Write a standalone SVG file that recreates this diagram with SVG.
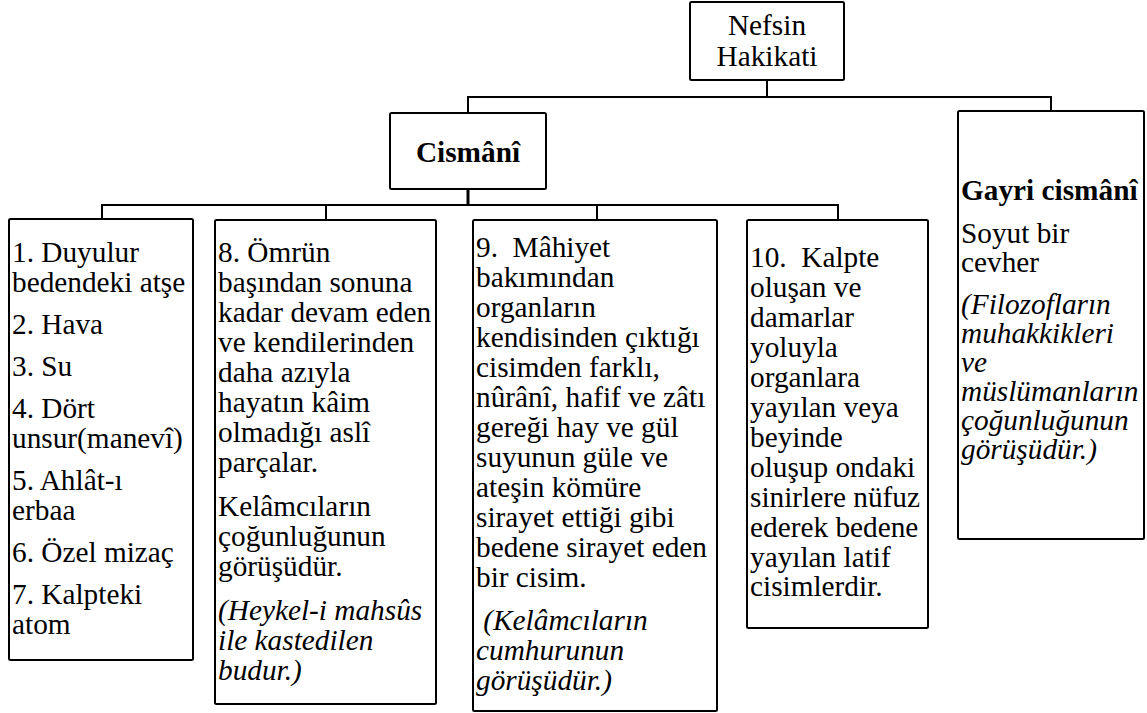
<svg xmlns="http://www.w3.org/2000/svg" width="1147" height="713" viewBox="0 0 1147 713">
<style>
.box{fill:#fff;stroke:#000;stroke-width:2}
text{font-family:"Liberation Serif","Times New Roman",serif;font-size:29.3px;fill:#000}
.b{font-weight:bold}
.i{font-style:italic}
.c{text-anchor:middle}
.conn{fill:none;stroke:#000;stroke-width:2}
</style>
<g id="connectors">
<polyline class="conn" points="767,80 767,97"/>
<polyline class="conn" points="468,113 468,97 1051,97 1051,111"/>
<polyline class="conn" points="468,189 468,205" style="stroke-width:3"/>
<polyline class="conn" points="102,219 102,205 838,205 838,220"/>
<polyline class="conn" points="326,205 326,220"/>
<polyline class="conn" points="597,205 597,220"/>
</g>
<g id="nefsin">
<rect class="box" x="690" y="2" width="154" height="78" rx="1.5"/>
<text class="c" x="767" y="35">Nefsin</text>
<text class="c" x="767" y="66">Hakikati</text>
</g>
<g id="cismani">
<rect class="box" x="390" y="113" width="156" height="76" rx="1.5"/>
<text class="b c" x="468" y="162">Cismânî</text>
</g>
<g id="gayri">
<rect class="box" x="958" y="111" width="186" height="428" rx="1.5"/>
<text class="b" x="961" y="200">Gayri cismânî</text>
<text x="961" y="243">Soyut bir</text>
<text x="961" y="272">cevher</text>
<text class="i" x="961" y="314">(Filozofların</text>
<text class="i" x="961" y="343">muhakkikleri</text>
<text class="i" x="961" y="372">ve</text>
<text class="i" x="961" y="401">müslümanların</text>
<text class="i" x="961" y="430">çoğunluğunun</text>
<text class="i" x="961" y="459">görüşüdür.)</text>
</g>
<g id="box1">
<rect class="box" x="9" y="219" width="184" height="441" rx="1.5"/>
<text x="12" y="262">1. Duyulur</text>
<text x="12" y="292">bedendeki atşe</text>
<text x="12" y="334">2. Hava</text>
<text x="12" y="376">3. Su</text>
<text x="12" y="418">4. Dört</text>
<text x="12" y="448">unsur(manevî)</text>
<text x="12" y="490">5. Ahlât-ı</text>
<text x="12" y="520">erbaa</text>
<text x="12" y="562">6. Özel mizaç</text>
<text x="12" y="604">7. Kalpteki</text>
<text x="12" y="634">atom</text>
</g>
<g id="box2">
<rect class="box" x="215" y="220" width="221" height="484" rx="1.5"/>
<text x="218" y="262">8. Ömrün</text>
<text x="218" y="292">başından sonuna</text>
<text x="218" y="322">kadar devam eden</text>
<text x="218" y="352">ve kendilerinden</text>
<text x="218" y="382">daha azıyla</text>
<text x="218" y="412">hayatın kâim</text>
<text x="218" y="442">olmadığı aslî</text>
<text x="218" y="472">parçalar.</text>
<text x="218" y="516">Kelâmcıların</text>
<text x="218" y="546">çoğunluğunun</text>
<text x="218" y="576">görüşüdür.</text>
<text class="i" x="218" y="620">(Heykel-i mahsûs</text>
<text class="i" x="218" y="650">ile kastedilen</text>
<text class="i" x="218" y="680">budur.)</text>
</g>
<g id="box3">
<rect class="box" x="473" y="220" width="244" height="491" rx="1.5"/>
<text x="476" y="257" xml:space="preserve">9.  Mâhiyet</text>
<text x="476" y="287">bakımından</text>
<text x="476" y="317">organların</text>
<text x="476" y="347">kendisinden çıktığı</text>
<text x="476" y="377">cisimden farklı,</text>
<text x="476" y="407">nûrânî, hafif ve zâtı</text>
<text x="476" y="437">gereği hay ve gül</text>
<text x="476" y="467">suyunun güle ve</text>
<text x="476" y="497">ateşin kömüre</text>
<text x="476" y="527">sirayet ettiği gibi</text>
<text x="476" y="557">bedene sirayet eden</text>
<text x="476" y="587">bir cisim.</text>
<text class="i" x="476" y="630" xml:space="preserve"> (Kelâmcıların</text>
<text class="i" x="476" y="660">cumhurunun</text>
<text class="i" x="476" y="690">görüşüdür.)</text>
</g>
<g id="box4">
<rect class="box" x="747" y="220" width="181" height="408" rx="1.5"/>
<text x="750" y="267" xml:space="preserve">10.  Kalpte</text>
<text x="750" y="297">oluşan ve</text>
<text x="750" y="327">damarlar</text>
<text x="750" y="357">yoluyla</text>
<text x="750" y="387">organlara</text>
<text x="750" y="417">yayılan veya</text>
<text x="750" y="447">beyinde</text>
<text x="750" y="477">oluşup ondaki</text>
<text x="750" y="507">sinirlere nüfuz</text>
<text x="750" y="537">ederek bedene</text>
<text x="750" y="567">yayılan latif</text>
<text x="750" y="596">cisimlerdir.</text>
</g>
</svg>
